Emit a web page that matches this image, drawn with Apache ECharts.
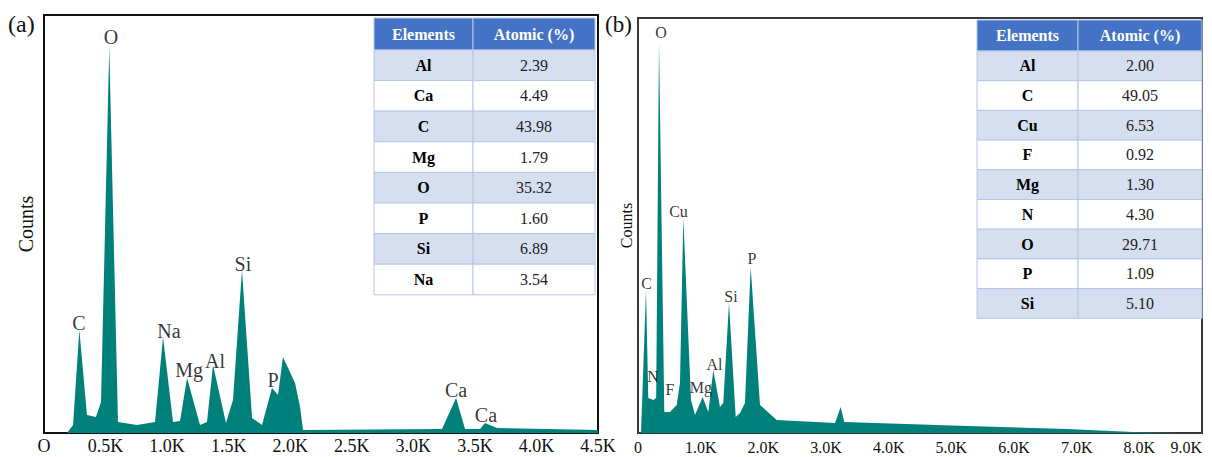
<!DOCTYPE html>
<html>
<head>
<meta charset="utf-8">
<title>EDS spectra</title>
<script src="https://cdn.jsdelivr.net/npm/echarts@6/dist/echarts.min.js"></script>
<style>
  html, body { margin: 0; padding: 0; background: #fff; }
  #chart { width: 1212px; height: 457px; }
</style>
</head>
<body>
<div id="chart"></div>
<script>
// spectrum (a): [energy, counts]
var spectrumA = [
  [187, 0], [236, 80], [287, 1030], [349, 180], [422, 160], [463, 310],
  [530, 3860], [601, 110], [755, 80], [902, 110], [967, 960], [1048, 110],
  [1105, 120], [1162, 550], [1267, 80], [1324, 110], [1373, 680], [1478, 100],
  [1535, 330], [1608, 1630], [1690, 150], [1771, 80], [1852, 450], [1901, 380],
  [1941, 760], [2039, 500], [2080, 260], [2104, 30], [3233, 40], [3347, 350],
  [3420, 40], [3542, 40], [3582, 100], [3680, 50], [4500, 30]
];
// peak labels (a): [name, energy, counts]
var peaksA = [
  ['C', 284, 1100], ['O', 544, 3960], ['Na', 1015, 1020], ['Mg', 1178, 630],
  ['Al', 1389, 720], ['Si', 1616, 1690], ['P', 1860, 530], ['Ca', 3347, 430],
  ['Ca', 3590, 180]
];
var ticksA = ['O', '0.5K', '1.0K', '1.5K', '2.0K', '2.5K', '3.0K', '3.5K', '4.0K', '4.5K'];
var elementsA = ['Al', 'Ca', 'C', 'Mg', 'O', 'P', 'Si', 'Na'];
var atomicA = ['2.39', '4.49', '43.98', '1.79', '35.32', '1.60', '6.89', '3.54'];

// spectrum (b)
var spectrumB = [
  [48, 0], [128, 1430], [164, 350], [244, 330], [290, 350], [335, 3910],
  [420, 210], [511, 210], [617, 280], [670, 500], [723, 2150], [846, 330],
  [910, 180], [1032, 360], [1122, 210], [1202, 630], [1308, 260], [1361, 300],
  [1452, 1300], [1559, 160], [1628, 200], [1707, 300], [1798, 1660], [1947, 280],
  [2213, 130], [3144, 100], [3234, 260], [3292, 110], [5250, 70], [6846, 40],
  [7899, 10], [8601, 0], [9000, 0]
];
var peaksB = [
  ['O', 367, 4010], ['C', 136, 1500], ['Cu', 646, 2220], ['N', 239, 570],
  ['F', 511, 440], ['Mg', 1005, 460], ['Al', 1221, 690], ['Si', 1484, 1370],
  ['P', 1819, 1750]
];
var ticksB = ['0', '1.0K', '2.0K', '3.0K', '4.0K', '5.0K', '6.0K', '7.0K', '8.0K', '9.0K'];
var elementsB = ['Al', 'C', 'Cu', 'F', 'Mg', 'N', 'O', 'P', 'Si'];
var atomicB = ['2.00', '49.05', '6.53', '0.92', '1.30', '4.30', '29.71', '1.09', '5.10'];

var serif = 'Liberation Serif';
var teal = '#00807a';

// table cells: rect with its own text inside
function cell(x, y, w, h, fill, text, color, bold) {
  return {
    type: 'rect', z: 100,
    shape: { x: x, y: y, width: w, height: h },
    style: { fill: fill, stroke: '#b4c6e7', lineWidth: 1 },
    textContent: {
      z: 101,
      style: { text: text, fill: color, fontFamily: serif, fontSize: 16,
        fontWeight: bold ? 'bold' : 'normal' }
    },
    textConfig: { position: 'inside' }
  };
}

function makeTable(x0, y0, w1, w2, headH, rowH, names, values) {
  var els = [];
  els.push(cell(x0, y0, w1, headH, '#4472c4', 'Elements', '#fff', true));
  els.push(cell(x0 + w1, y0, w2, headH, '#4472c4', 'Atomic (%)', '#fff', true));
  names.forEach(function (n, i) {
    var y = y0 + headH + i * rowH;
    var fill = i % 2 === 0 ? '#d6dff0' : '#ffffff';
    els.push(cell(x0, y, w1, rowH, fill, n, '#000', true));
    els.push(cell(x0 + w1, y, w2, rowH, fill, values[i], '#222', false));
  });
  return els;
}

function peakSeries(peaks, xi, yi, size) {
  return {
    type: 'scatter', xAxisIndex: xi, yAxisIndex: yi, symbolSize: 0, z: 5,
    silent: true,
    data: peaks.map(function (p) { return { name: p[0], value: [p[1], p[2]] }; }),
    label: { show: true, position: 'inside', formatter: '{b}', color: '#000',
      textBorderWidth: 0, fontFamily: serif, fontSize: size }
  };
}

var chart = echarts.init(document.getElementById('chart'), null, { renderer: 'svg' });

var option = {
  animation: false,
  backgroundColor: '#fff',
  grid: [
    { left: 44, top: 15, right: 614, bottom: 24, outerBoundsMode: 'none',
      show: true, borderColor: '#111', borderWidth: 2, backgroundColor: 'transparent' },
    { left: 638, top: 18, right: 10, bottom: 24, outerBoundsMode: 'none',
      show: true, borderColor: '#3a3a3a', borderWidth: 2, backgroundColor: 'transparent' }
  ],
  xAxis: [
    { type: 'value', gridIndex: 0, min: 0, max: 4500, interval: 500,
      axisLine: { show: false }, axisTick: { show: false }, splitLine: { show: false },
      axisLabel: { margin: 4, color: '#111', fontFamily: serif, fontSize: 18,
        formatter: function (v) { return ticksA[Math.round(v / 500)]; } } },
    { type: 'value', gridIndex: 1, min: 0, max: 9000, interval: 1000,
      axisLine: { show: false }, axisTick: { show: false }, splitLine: { show: false },
      axisLabel: { margin: 6, color: '#111', fontFamily: serif, fontSize: 16,
        alignMaxLabel: 'right',
        formatter: function (v) { return ticksB[Math.round(v / 1000)]; } } }
  ],
  yAxis: [
    { type: 'value', gridIndex: 0, min: 0, max: 4180,
      axisLine: { show: false }, axisTick: { show: false }, splitLine: { show: false },
      axisLabel: { show: false },
      name: 'Counts', nameLocation: 'middle', nameRotate: 90, nameGap: 8,
      nameTextStyle: { color: '#111', fontFamily: serif, fontSize: 20 } },
    { type: 'value', gridIndex: 1, min: 0, max: 4150,
      axisLine: { show: false }, axisTick: { show: false }, splitLine: { show: false },
      axisLabel: { show: false },
      name: 'Counts', nameLocation: 'middle', nameRotate: 90, nameGap: 4,
      nameTextStyle: { color: '#111', fontFamily: serif, fontSize: 16 } }
  ],
  series: [
    { type: 'line', xAxisIndex: 0, yAxisIndex: 0, data: spectrumA, symbol: 'none',
      lineStyle: { width: 0 }, areaStyle: { color: teal, opacity: 1 } },
    { type: 'line', xAxisIndex: 1, yAxisIndex: 1, data: spectrumB, symbol: 'none',
      lineStyle: { width: 0 }, areaStyle: { color: teal, opacity: 1 } },
    peakSeries(peaksA, 0, 0, 20),
    peakSeries(peaksB, 1, 1, 16)
  ],
  graphic: [
    { type: 'text', left: 8, top: 12, style: { text: '(a)', fill: '#111', fontFamily: serif, fontSize: 24 } },
    { type: 'text', left: 605, top: 13, style: { text: '(b)', fill: '#111', fontFamily: serif, fontSize: 23 } }
  ]
    .concat(makeTable(374, 18, 99, 122, 32, 30.6, elementsA, atomicA))
    .concat(makeTable(977, 20, 101, 124, 31, 29.7, elementsB, atomicB))
};

chart.setOption(option);
</script>
</body>
</html>
